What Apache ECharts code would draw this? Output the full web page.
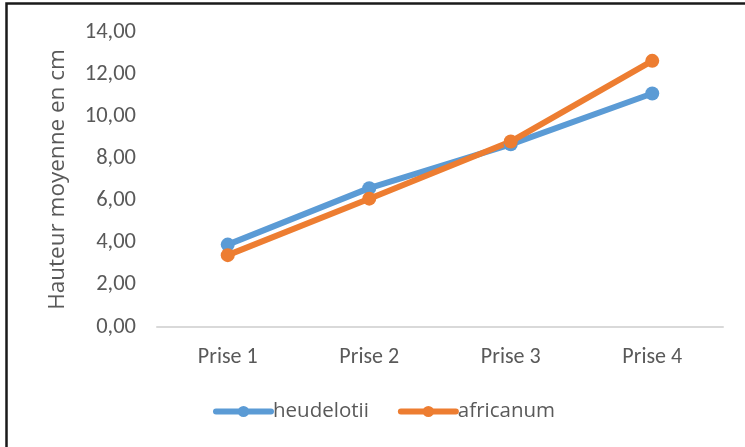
<!DOCTYPE html>
<html>
<head>
<meta charset="utf-8">
<script src="https://cdn.jsdelivr.net/npm/echarts@6/dist/echarts.min.js"></script>
<style>
  html, body { margin: 0; padding: 0; background: #ffffff; }
  #chart { width: 745px; height: 447px; }
</style>
</head>
<body>
<div id="chart"></div>
<script>
// Mean plant height (cm) at each measurement
const categories = ['Prise 1', 'Prise 2', 'Prise 3', 'Prise 4'];
const heudelotii = [3.91, 6.59, 8.67, 11.08];
const africanum = [3.41, 6.09, 8.80, 12.63];
const seriesNames = ['heudelotii', 'africanum'];
const seriesColors = ['#5B9BD5', '#ED7D31'];

const labelFont = "Carlito, 'Liberation Sans Narrow', 'Liberation Sans', sans-serif";
const textFont = "'Open Sans', 'Noto Sans', sans-serif";

const chart = echarts.init(document.getElementById('chart'), null, { renderer: 'canvas' });

function lineSeries(name, data, color) {
  return {
    name: name,
    type: 'line',
    data: data,
    symbol: 'circle',
    symbolSize: 14,
    lineStyle: { width: 6, color: color, cap: 'round' },
    itemStyle: { color: color },
    z: 3
  };
}

chart.setOption({
  animation: false,
  backgroundColor: '#ffffff',
  graphic: [
    {
      type: 'polyline',
      shape: { points: [[6.5, 450], [6.5, 3.5], [750, 3.5]] },
      style: { stroke: '#1a1a1a', lineWidth: 2.5, fill: null },
      silent: true
    }
  ],
  grid: { left: 157, top: 32, width: 566, height: 295, containLabel: false },
  legend: {
    bottom: 20,
    left: 208,
    padding: 5,
    itemWidth: 55,
    itemHeight: 14,
    itemGap: 29,
    data: seriesNames,
    lineStyle: { width: 6 },
    textStyle: { fontFamily: textFont, fontSize: 20.5, color: '#595959', padding: [0, 0, 0, -3] }
  },
  xAxis: {
    type: 'category',
    data: categories,
    boundaryGap: true,
    axisLine: { show: true, lineStyle: { color: '#d9d9d9', width: 2 } },
    axisTick: { show: false },
    axisLabel: { fontFamily: labelFont, fontSize: 22, color: '#595959', margin: 19 },
    splitLine: { show: false }
  },
  yAxis: {
    type: 'value',
    min: 0,
    max: 14,
    interval: 2,
    name: 'Hauteur moyenne en cm',
    nameLocation: 'middle',
    nameGap: 88,
    nameRotate: 90,
    nameTextStyle: { fontFamily: textFont, fontSize: 22.5, color: '#595959' },
    axisLine: { show: false },
    axisTick: { show: false },
    splitLine: { show: false },
    axisLabel: {
      fontFamily: labelFont,
      fontSize: 22.5,
      color: '#595959',
      margin: 21,
      formatter: function (v) { return v.toFixed(2).replace('.', ','); }
    }
  },
  series: [
    lineSeries(seriesNames[0], heudelotii, seriesColors[0]),
    lineSeries(seriesNames[1], africanum, seriesColors[1])
  ]
});
</script>
</body>
</html>
